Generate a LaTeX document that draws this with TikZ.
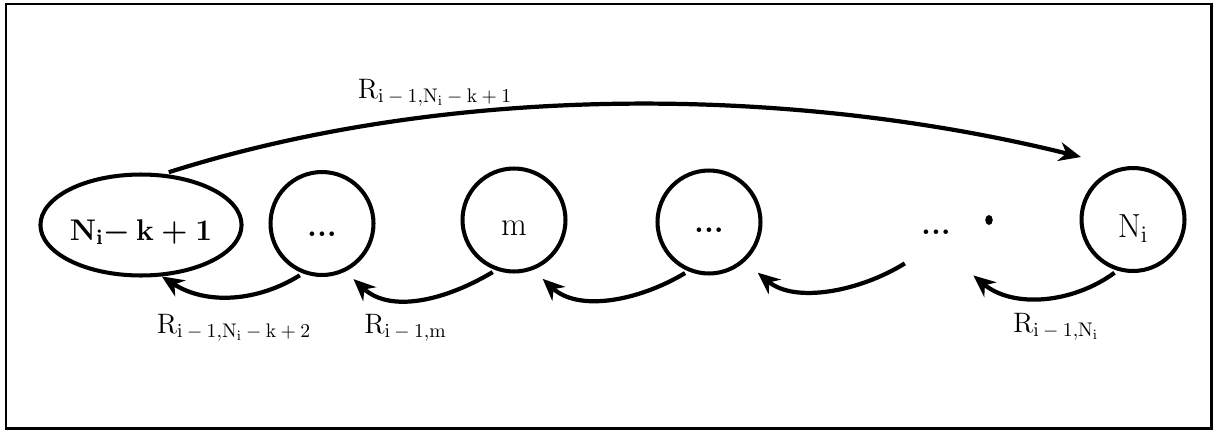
\RequirePackage{fix-cm}
\documentclass[tikz,border=0pt]{standalone}
\usetikzlibrary{arrows.meta,shapes.geometric}
\newcommand\Rlab[1]{$\mathrm{R}_{#1}$}
\begin{document}
\begin{tikzpicture}[x=0.02cm,y=0.02cm,
  st/.style={draw, line width=2.3pt, circle, minimum size=2.06cm, inner sep=0pt, text depth=0pt},
  big/.style={draw, line width=2.3pt, ellipse, minimum width=3.86cm, minimum height=2.02cm, inner sep=0pt, text depth=0pt},
  conn/.style={line width=2.4pt, -{Stealth[length=0.44cm,width=0.38cm,inset=0.14cm]}},
  lab/.style={anchor=base, font=\fontsize{16}{18}\selectfont, inner sep=0pt},
  dotsfont/.style={font=\fontsize{18}{20}\selectfont\bfseries}
  ]
\useasboundingbox (0,0) rectangle (1220,434);
\draw[line width=1.7pt] (6,6) rectangle (1211,430);

\node[big, font=\fontsize{17}{20}\selectfont\boldmath, text height=0.6cm] (e) at (141,209)
  {$\mathbf{N}_{\mathbf{i}}{-}\,\mathbf{k}+\mathbf{1}$};
\node[st, dotsfont, text height=0.5cm] (c2) at (322,210.5) {...};
\node[st, font=\fontsize{19}{20}\selectfont, text height=0.6cm] (m) at (514,214) {m};
\node[st, dotsfont, text height=0.4cm] (c4) at (709,212) {...};
\node[circle, minimum size=2.06cm, inner sep=0pt, dotsfont, text height=0.48cm, text depth=0pt] (dd) at (936,212) {...};
\node[ellipse, fill, inner sep=0pt, minimum width=0.15cm, minimum height=0.2cm] (dot) at (989,214) {};
\node[st, font=\fontsize{19}{20}\selectfont, text height=0.72cm] (ni) at (1133,214.5) {$\mathrm{N_i}$};

\coordinate (t1) at (1081,277);
\draw[conn, shorten <=3pt] (e.66) .. controls (450,351) and (790,349) .. (t1);
\node[lab] (l0) at (435,336) {\Rlab{\mathrm{i}\:-\:1,\mathrm{N_i}\:-\:\mathrm{k}\:+\:1}};

\draw[conn, shorten <=2pt] (c2.249) .. controls +(-45,-28) and +(45,-29) .. (e.-68);
\draw[conn, shorten <=2pt, shorten >=0.22cm] (m.250) .. controls +(-50,-30) and +(45,-42) .. (c2.-64);
\draw[conn, shorten <=2pt, shorten >=0.26cm] (c4.247) .. controls +(-50,-30) and +(45,-42) .. (m.-69);
\draw[conn, shorten >=0.34cm] (dd.233.5) .. controls +(-45,-28) and +(50,-42) .. (c4.-48);
\draw[conn, shorten <=2pt, shorten >=0.28cm] (ni.253) .. controls +(-45,-33) and +(50,-42) .. (dd.-59.6);

\node[lab] (l1) at (234,101) {\Rlab{\mathrm{i}\:-\:1,\mathrm{N_i}\:-\:\mathrm{k}\:+\:2}};
\node[lab] (l2) at (405.5,101) {\Rlab{\mathrm{i}\:-\:1,\mathrm{m}}};
\node[lab] (l5) at (1056,102) {\Rlab{\mathrm{i}\:-\:1,\mathrm{N_i}}};
\end{tikzpicture}
\end{document}
